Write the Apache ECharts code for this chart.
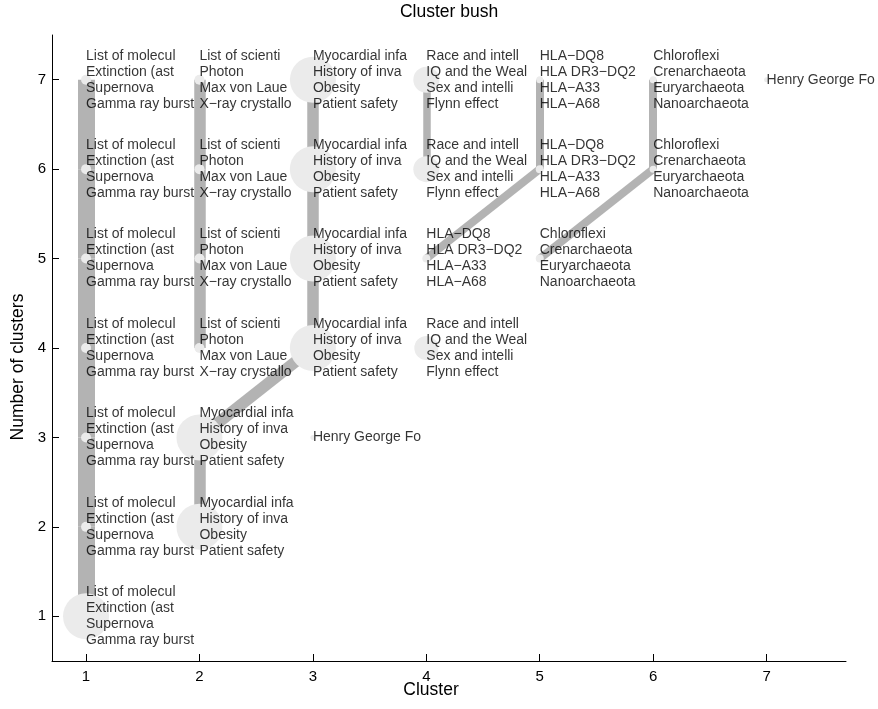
<!DOCTYPE html>
<html>
<head>
<meta charset="utf-8">
<script src="https://cdn.jsdelivr.net/npm/echarts@6/dist/echarts.min.js"></script>
<style>
html,body{margin:0;padding:0;background:#fff;}
#chart{width:878px;height:709px;}
</style>
</head>
<body>
<div id="chart"></div>
<script>
// ---- data ----
const xTicks = [1, 2, 3, 4, 5, 6, 7];
const yTicks = [1, 2, 3, 4, 5, 6, 7];

// cluster groups (top terms of each cluster)
const groupA = ["List of molecul", "Extinction (ast", "Supernova", "Gamma ray burst"];
const groupB = ["List of scienti", "Photon", "Max von Laue", "X\u2212ray crystallo"];
const groupC = ["Myocardial infa", "History of inva", "Obesity", "Patient safety"];
const groupD = ["Race and intell", "IQ and the Weal", "Sex and intelli", "Flynn effect"];
const groupE = ["HLA\u2212DQ8", "HLA DR3\u2212DQ2", "HLA\u2212A33", "HLA\u2212A68"];
const groupF = ["Chloroflexi", "Crenarchaeota", "Euryarchaeota", "Nanoarchaeota"];
const groupH = ["Henry George Fo"];
const groups = { A: groupA, B: groupB, C: groupC, D: groupD, E: groupE, F: groupF, H: groupH };

// nodes: cluster index, number of clusters, relative size, group
const nodeCluster = [1, 1, 2, 1, 2, 3, 1, 2, 3, 4, 1, 2, 3, 4, 5, 1, 2, 3, 4, 5, 6, 1, 2, 3, 4, 5, 6, 7];
const nodeLevel   = [1, 2, 2, 3, 3, 3, 4, 4, 4, 4, 5, 5, 5, 5, 5, 6, 6, 6, 6, 6, 6, 7, 7, 7, 7, 7, 7, 7];
const nodeSize    = [23, 5, 23, 5, 23, 2.5, 5, 5, 23, 12, 5, 5, 23, 4, 4, 5, 5, 23, 13, 4, 3.5, 5, 5, 23, 13, 3.5, 3.5, 2.5];
const nodeGroup   = ["A", "A", "C", "A", "C", "H", "A", "B", "C", "D", "A", "B", "C", "E", "F", "A", "B", "C", "D", "E", "F", "A", "B", "C", "D", "E", "F", "H"];

// edges between levels: from (x1,y1) to (x2,y2) with overlap weight
const edgeX1 = [1, 1, 1, 1, 1, 1, 2, 2, 2, 2, 2, 3, 3, 3, 4, 4, 5, 5, 6];
const edgeY1 = [1, 2, 3, 4, 5, 6, 2, 3, 4, 5, 6, 4, 5, 6, 6, 5, 6, 5, 6];
const edgeX2 = [1, 1, 1, 1, 1, 1, 2, 3, 2, 2, 2, 3, 3, 3, 4, 5, 5, 6, 6];
const edgeY2 = [2, 3, 4, 5, 6, 7, 3, 4, 5, 6, 7, 5, 6, 7, 7, 6, 7, 6, 7];
const edgeWeight = [17, 17, 17, 17, 17, 17, 11.5, 11.5, 11.5, 11.5, 11.5, 11.5, 11.5, 11.5, 7.5, 8, 8, 8, 8];

// ---- build ----
const FONT = "'Liberation Sans', Arial, Helvetica, sans-serif";
const sizeScale = 2;   // node size -> symbol diameter
const widthScale = 1;  // overlap weight -> line width

const circleData = nodeCluster.map((c, i) => [c, nodeLevel[i], nodeSize[i]]);
const labelData = nodeCluster.map((c, i) => ({ value: [c, nodeLevel[i]], g: nodeGroup[i] }));
const edgeData = edgeX1.map((x, i) => ({
  coords: [[x, edgeY1[i]], [edgeX2[i], edgeY2[i]]],
  lineStyle: { width: edgeWeight[i] * widthScale }
}));

const chart = echarts.init(document.getElementById('chart'), null, { renderer: 'canvas' });
chart.setOption({
  animation: false,
  backgroundColor: '#ffffff',
  grid: { left: 52, right: 32, top: 35, bottom: 48, containLabel: false },
  xAxis: {
    type: 'value', min: 0.7, max: 7.7,
    splitLine: { show: false },
    axisLine: { show: true, onZero: false, lineStyle: { color: '#000', width: 1 } },
    axisTick: { show: true, inside: true, length: 7, customValues: xTicks, lineStyle: { color: '#000' } },
    axisLabel: { customValues: xTicks, color: '#000', fontSize: 15, fontFamily: FONT, margin: 8 }
  },
  yAxis: {
    type: 'value', min: 0.5, max: 7.5,
    splitLine: { show: false },
    axisLine: { show: true, onZero: false, lineStyle: { color: '#000', width: 1 } },
    axisTick: { show: true, inside: true, length: 7, customValues: yTicks, lineStyle: { color: '#000' } },
    axisLabel: { customValues: yTicks, color: '#000', fontSize: 15, fontFamily: FONT, margin: 6 }
  },
  graphic: [
    { type: 'text', x: 449, y: 12, style: { text: 'Cluster bush', font: '17.5px ' + FONT, fill: '#000', align: 'center', verticalAlign: 'middle', textAlign: 'center', textVerticalAlign: 'middle' } },
    { type: 'text', x: 431, y: 690, style: { text: 'Cluster', font: '17.5px ' + FONT, fill: '#000', align: 'center', verticalAlign: 'middle', textAlign: 'center', textVerticalAlign: 'middle' } },
    { type: 'text', x: 18, y: 367, rotation: Math.PI / 2, style: { text: 'Number of clusters', font: '17.5px ' + FONT, fill: '#000', align: 'center', verticalAlign: 'middle', textAlign: 'center', textVerticalAlign: 'middle' } }
  ],
  series: [
    {
      type: 'lines', coordinateSystem: 'cartesian2d', polyline: false, z: 1,
      lineStyle: { color: '#b3b3b3', opacity: 1, curveness: 0, cap: 'butt' },
      data: edgeData, silent: true
    },
    {
      type: 'scatter', z: 2, symbol: 'circle',
      symbolSize: d => d[2] * sizeScale,
      itemStyle: { color: '#ebebeb', opacity: 1 },
      data: circleData, silent: true
    },
    {
      type: 'scatter', z: 3, symbolSize: 0,
      data: labelData, silent: true,
      label: {
        show: true, position: 'inside', align: 'left', verticalAlign: 'middle',
        color: '#000', fontSize: 14, lineHeight: 16, fontFamily: FONT,
        formatter: p => groups[p.data.g].join('\n')
      }
    }
  ]
});
</script>
</body>
</html>
